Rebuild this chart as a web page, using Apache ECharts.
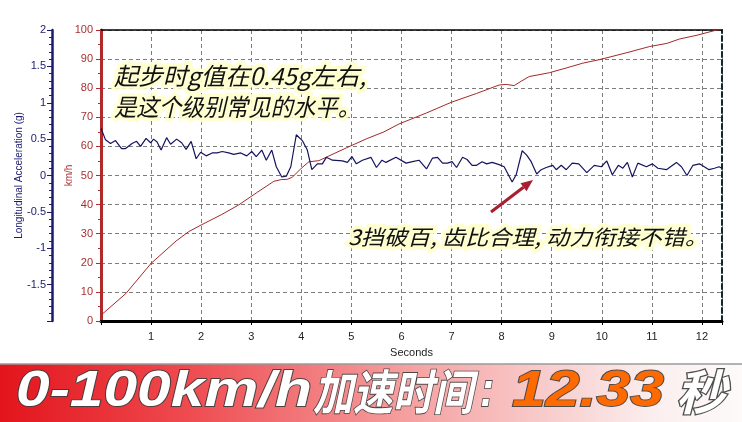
<!DOCTYPE html>
<html><head><meta charset="utf-8">
<script src="https://cdn.jsdelivr.net/npm/echarts@6/dist/echarts.min.js"></script>
<style>html,body{margin:0;padding:0;background:#fff}#c{width:742px;height:422px}</style>
</head><body><div id="c"></div>
<script>
// ---- data ----
const speedTime = [0, 0.5, 1.0, 1.5, 1.75, 2.0, 2.4, 2.75, 3.1, 3.45, 3.6, 3.72, 3.82, 4.0, 4.15, 4.35, 4.55, 4.9, 5.3, 5.65, 5.95, 6.5, 7.0, 7.5, 7.95, 8.09, 8.25, 8.4, 8.55, 8.95, 9.3, 9.62, 9.95, 10.5, 10.95, 11.3, 11.55, 11.9, 12.25, 12.4];
const speedKmh = [2, 9.5, 19.8, 27.5, 30.7, 33, 36.5, 39.9, 44, 48, 48.6, 48.7, 49.4, 52.5, 54.7, 55.1, 56.7, 59.5, 62.6, 65, 67.7, 71.5, 75.2, 78.2, 81.1, 81.3, 80.9, 82.5, 84, 85.3, 87, 88.6, 89.8, 92.2, 94.3, 95.4, 96.9, 98.2, 99.8, 100.3];
const accelTime = [0,0.09,0.19,0.29,0.41,0.49,0.62,0.71,0.79,0.9,
  0.99,1.05,1.12,1.2,1.31,1.39,1.51,1.61,1.7,1.8,
  1.9,1.99,2.1,2.22,2.32,2.42,2.55,2.65,2.79,2.91,
  3.01,3.1,3.21,3.3,3.41,3.5,3.61,3.7,3.79,3.9,
  4.02,4.12,4.21,4.32,4.42,4.5,4.62,4.82,4.92,5.01,
  5.1,5.22,5.39,5.5,5.61,5.69,5.89,6.09,6.22,6.35,
  6.5,6.62,6.72,6.82,6.92,7.01,7.1,7.22,7.31,7.41,
  7.5,7.61,7.7,7.81,7.95,8.05,8.21,8.29,8.41,8.5,
  8.59,8.7,8.79,8.89,9.02,9.09,9.19,9.29,9.41,9.54,
  9.7,9.85,9.99,10.1,10.21,10.33,10.42,10.51,10.61,10.72,
  10.89,11.01,11.12,11.29,11.49,11.59,11.7,11.82,11.95,12.14,
  12.25,12.34,12.4];
const accelG = [0.65,0.49,0.44,0.48,0.37,0.37,0.44,0.47,0.40,0.51,
  0.45,0.50,0.46,0.35,0.52,0.43,0.50,0.45,0.36,0.47,
  0.23,0.32,0.27,0.31,0.31,0.33,0.31,0.29,0.31,0.27,
  0.33,0.26,0.35,0.21,0.35,0.12,-0.02,-0.01,0.12,0.56,
  0.48,0.35,0.08,0.16,0.16,0.25,0.21,0.20,0.18,0.26,
  0.16,0.21,0.25,0.11,0.21,0.18,0.25,0.17,0.19,0.21,
  0.09,0.24,0.25,0.17,0.17,0.19,0.11,0.25,0.22,0.14,
  0.14,0.19,0.16,0.18,0.15,0.12,-0.09,0.01,0.34,0.28,
  0.19,0.02,0.08,0.11,0.14,0.08,0.14,0.08,0.17,0.16,
  0.04,0.14,0.12,0.20,0.01,0.14,0.10,0.18,-0.02,0.17,
  0.12,0.16,0.10,0.08,0.18,0.12,0.00,0.14,0.16,0.08,
  0.10,0.12,0.10];
const xName = 'Seconds';
const speedAxisName = 'km/h';
const accelAxisName = 'Longitudinal Acceleration (g)';
const note1 = '起步时g值在0.45g左右,';
const note2 = '是这个级别常见的水平。';
const note3 = '3挡破百, 齿比合理, 动力衔接不错。';
const bannerParts = ['0-100km/h', '加速时间', ':', '12.33', '秒'];

// ---- build ----
const speedData = speedTime.map((t, i) => [t, speedKmh[i]]);
const accelData = accelTime.map((t, i) => [t, accelG[i]]);

const mctx = document.createElement('canvas').getContext('2d');
function fitScale(text, font, target) { mctx.font = font; return target / mctx.measureText(text).width; }

const gridCol = '#7d7d7d';
const red = '#a83030';
const navy = '#1a1a6e';
const cjk = '"Noto Sans CJK SC"';
const latinBI = 'italic bold 50px "Liberation Sans"';
const cjkB = 'italic bold 48px ' + cjk;

function note(text, x, y, size, width) {
  const font = 'italic ' + size + 'px ' + cjk;
  const s = fitScale(text, font, width);
  const base = { type: 'text', x: x, y: y, scaleX: s, z: 100 };
  return [
    Object.assign({}, base, { style: { text: text, font: font, fill: 'rgba(255,255,215,0.95)', stroke: 'rgba(255,255,205,0.9)', lineWidth: 7, lineJoin: 'round', textVerticalAlign: 'middle', shadowBlur: 6, shadowColor: 'rgba(255,252,190,0.9)' } }),
    Object.assign({}, base, { z: 101, style: { text: text, font: font, fill: '#111', textVerticalAlign: 'middle' } })
  ];
}
function bannerText(text, font, x, width, fill, strokeCol, strokeW) {
  const s = fitScale(text, font, width);
  return { type: 'text', x: x, y: 392, scaleX: s, z: 100,
    style: { text: text, font: font, fill: fill, stroke: strokeCol || 'rgba(60,60,60,0.9)', lineWidth: strokeW || 1.8, textVerticalAlign: 'middle', shadowBlur: 2, shadowOffsetX: 2, shadowOffsetY: 2, shadowColor: 'rgba(0,0,0,0.5)' } };
}

const graphics = [].concat(
  note(note1, 114, 76, 24, 252),
  note(note2, 114, 107, 24, 246),
  note(note3, 348, 237, 21, 360),
  [
    { type: 'line', z: 102, shape: { x1: 491, y1: 212, x2: 523.5, y2: 187.3 }, style: { stroke: '#a82030', lineWidth: 3 } },
    { type: 'polygon', z: 102, shape: { points: [[533, 180], [526.5, 191.3], [520.5, 183.3]] }, style: { fill: '#a82030' } },
    { type: 'rect', z: 90, shape: { x: 0, y: 364, width: 742, height: 58 },
      style: { fill: new echarts.graphic.LinearGradient(0, 0, 1, 0, [
        { offset: 0, color: '#e3141c' }, { offset: 0.25, color: '#ee4a4f' }, { offset: 0.55, color: '#f5a0a0' }, { offset: 0.88, color: '#fbeeee' }, { offset: 1, color: '#fdfafa' }]) } },
    { type: 'line', z: 91, shape: { x1: 0, y1: 364, x2: 742, y2: 364 }, style: { stroke: '#9a9a9a', lineWidth: 1.5 } },
    bannerText(bannerParts[0], latinBI, 16, 296, '#ffffff'),
    bannerText(bannerParts[1], cjkB, 313, 160, '#ffffff'),
    bannerText(bannerParts[2], latinBI, 480, 14, '#ffffff'),
    bannerText(bannerParts[3], latinBI, 512, 152, '#ff6a00'),
    bannerText(bannerParts[4], cjkB, 676, 50, '#ffffff', 'rgba(70,70,70,0.95)', 2.6)
  ]
);

const labelFont = { fontFamily: '"Liberation Sans", Arial, sans-serif', fontSize: 11 };

const option = {
  animation: false,
  backgroundColor: '#ffffff',
  grid: { left: 101, right: 20, top: 30, bottom: 101 },
  xAxis: [
    { type: 'value', min: 0, max: 12.4, interval: 1, position: 'bottom',
      axisLine: { show: true, onZero: false, lineStyle: { color: '#000', width: 3 } },
      axisTick: { show: true, length: 4, lineStyle: { color: '#000' } },
      minorTick: { show: true, splitNumber: 5, length: 2, lineStyle: { color: '#000' } },
      axisLabel: Object.assign({ color: '#222', margin: 10, formatter: v => (Number.isInteger(v) && v !== 0) ? String(v) : '' }, labelFont),
      splitLine: { show: true, lineStyle: { color: gridCol, type: [4, 3], width: 1 } },
      name: xName, nameLocation: 'middle', nameGap: 26, nameMoveOverlap: false, nameTextStyle: Object.assign({ color: '#222' }, labelFont) },
    { type: 'value', min: 0, max: 12.4, position: 'top',
      axisLine: { show: true, onZero: false, lineStyle: { color: '#000', width: 1.5 } },
      axisTick: { show: false }, axisLabel: { show: false }, splitLine: { show: false } }
  ],
  yAxis: [
    { type: 'value', min: 0, max: 100, interval: 10, position: 'left', offset: 0,
      axisLine: { show: true, onZero: false, lineStyle: { color: '#b02a2a', width: 3 } },
      axisTick: { show: true, length: 5, lineStyle: { color: '#b02a2a' } },
      minorTick: { show: true, splitNumber: 2, length: 3, lineStyle: { color: '#b02a2a' } },
      axisLabel: Object.assign({ color: red, margin: 8 }, labelFont),
      splitLine: { show: true, lineStyle: { color: gridCol, type: [4, 3], width: 1 } },
      name: speedAxisName, nameLocation: 'middle', nameGap: 27, nameMoveOverlap: false, nameTextStyle: Object.assign({}, labelFont, { color: red, fontSize: 10 }) },
    { type: 'value', min: -2, max: 2, interval: 0.5, position: 'left', offset: 49,
      axisLine: { show: true, onZero: false, lineStyle: { color: navy, width: 2.5 } },
      axisTick: { show: true, length: 5, lineStyle: { color: navy } },
      minorTick: { show: true, splitNumber: 5, length: 3, lineStyle: { color: navy } },
      axisLabel: Object.assign({ color: navy, margin: 6, formatter: v => v === -2 ? '' : String(v) }, labelFont),
      splitLine: { show: false },
      name: accelAxisName, nameLocation: 'middle', nameGap: 28, nameMoveOverlap: false, nameTextStyle: Object.assign({}, labelFont, { color: navy, fontSize: 10 }) },
    { type: 'value', min: 0, max: 1, position: 'right',
      axisLine: { show: true, onZero: false, lineStyle: { color: '#0d2b2b', width: 2, type: [5, 3] } },
      axisTick: { show: false }, axisLabel: { show: false }, splitLine: { show: false } }
  ],
  series: [
    { type: 'line', name: 'speed', xAxisIndex: 0, yAxisIndex: 0, data: speedData, showSymbol: false, symbol: 'none',
      lineStyle: { color: '#a32828', width: 1 }, z: 3 },
    { type: 'line', name: 'accel', xAxisIndex: 0, yAxisIndex: 1, data: accelData, showSymbol: false, symbol: 'none',
      lineStyle: { color: '#14145e', width: 1.2 }, z: 4 }
  ],
  graphic: graphics
};

const chart = echarts.init(document.getElementById('c'), null, { renderer: 'canvas' });
chart.setOption(option);
</script>
</body></html>
